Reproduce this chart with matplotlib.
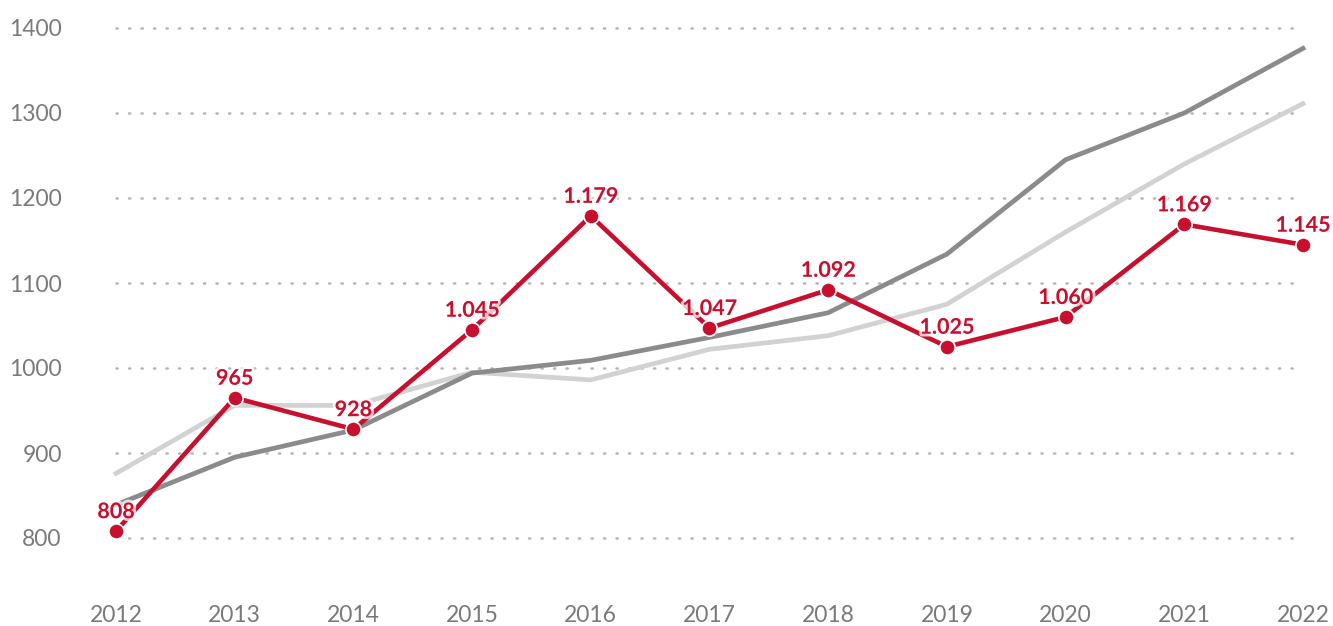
import matplotlib
matplotlib.use("Agg")
import matplotlib.pyplot as plt
import matplotlib.patheffects as pe

years = [2012, 2013, 2014, 2015, 2016, 2017, 2018, 2019, 2020, 2021, 2022]
red_values = [808, 965, 928, 1045, 1179, 1047, 1092, 1025, 1060, 1169, 1145]
red_labels = ["808", "965", "928", "1.045", "1.179", "1.047", "1.092", "1.025", "1.060", "1.169", "1.145"]
dark_gray_values = [839, 895, 927, 994, 1009, 1036, 1065, 1134, 1245, 1300, 1376]
light_gray_values = [876, 956, 956, 995, 986, 1022, 1038, 1075, 1160, 1240, 1311]
y_ticks = [800, 900, 1000, 1100, 1200, 1300, 1400]

RED = "#c8102e"
DARK = "#898b8d"
LIGHT = "#d2d2d2"

W, H = 1333, 626
fig = plt.figure(figsize=(W / 100, H / 100), dpi=100)
left, right = 116, 1303
top, bottom = 28, 538
ax = fig.add_axes([left / W, (H - bottom) / H, (right - left) / W, (bottom - top) / H])
ax.set_xlim(2012, 2022)
ax.set_ylim(800, 1400)

for s in ax.spines.values():
    s.set_visible(False)

for yv in y_ticks:
    ax.axhline(yv, color="#b5b5b5", lw=1.8, ls=(0, (0.5, 4.5)), dash_capstyle="round", zorder=0, clip_on=False)

ax.plot(years, light_gray_values, color=LIGHT, lw=3.4, zorder=2, clip_on=False, solid_joinstyle="miter")
ax.plot(years, dark_gray_values, color=DARK, lw=3.4, zorder=3, clip_on=False, solid_joinstyle="miter")
ax.plot(years, red_values, color=RED, lw=3.3, zorder=4, clip_on=False,
        marker="o", markersize=11, markerfacecolor=RED, markeredgecolor="white", markeredgewidth=1.2)

for x, v, lab in zip(years, red_values, red_labels):
    t = ax.annotate(lab, (x, v), xytext=(0, 6.5), textcoords="offset points",
                    ha="center", va="bottom", color=RED, fontsize=15.5,
                    fontfamily="Lato", fontweight="bold", zorder=6, annotation_clip=False)
    t.set_path_effects([pe.withStroke(linewidth=4, foreground=(1, 1, 1, 0.75))])

ax.set_yticks(y_ticks)
ax.set_yticklabels([str(v) for v in y_ticks])
ax.set_xticks(years)
ax.set_xticklabels([str(y) for y in years])
ax.tick_params(axis="both", length=0, labelsize=16.5, labelcolor="#7a7a7a")
ax.tick_params(axis="y", pad=39)
ax.tick_params(axis="x", pad=48)
for lbl in ax.get_xticklabels() + ax.get_yticklabels():
    lbl.set_fontfamily("Lato")
    lbl.set_fontweight("normal")

fig.savefig("out.png", dpi=100)
